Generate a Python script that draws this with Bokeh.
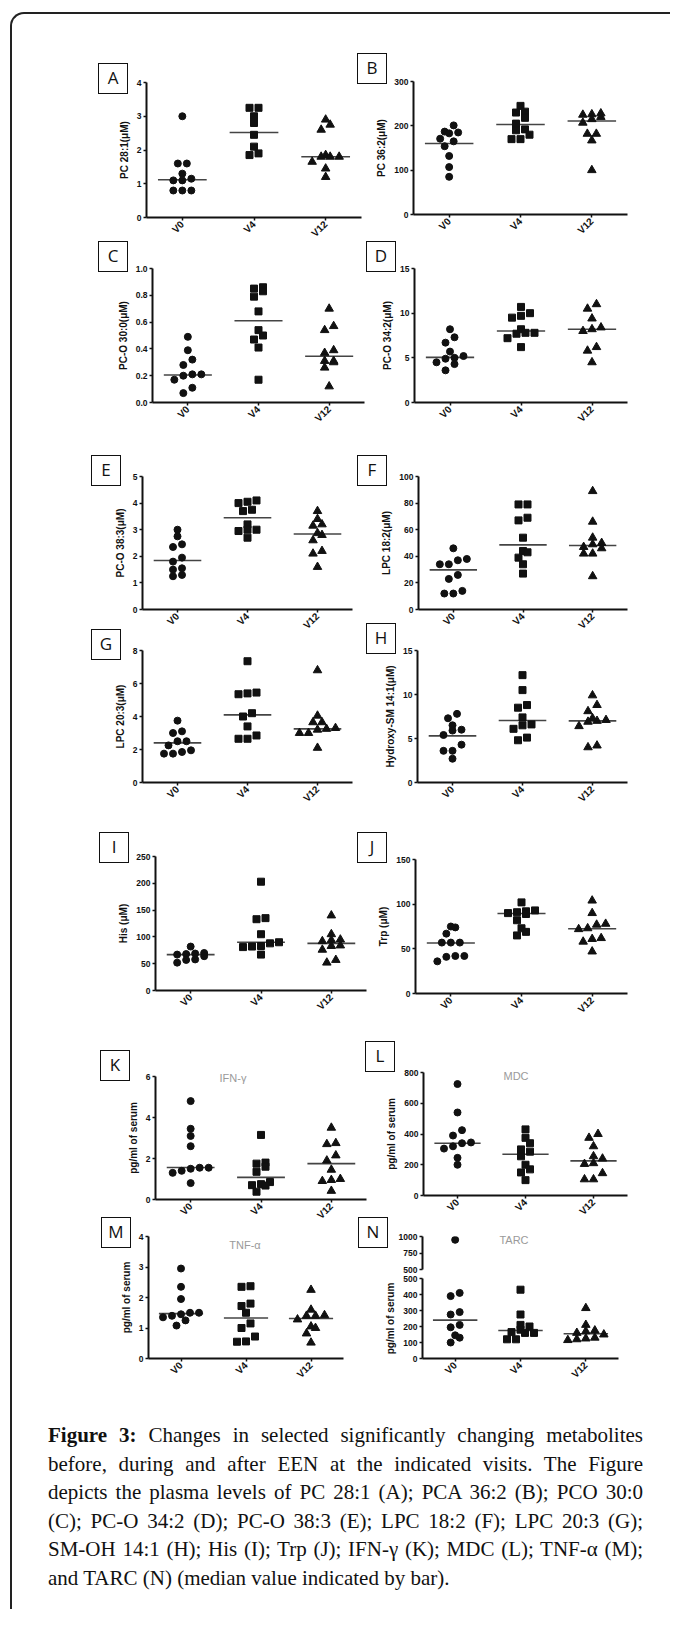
import numpy as np
from bokeh.plotting import figure
from bokeh.models import Range1d, FixedTicker, Div, Column
from bokeh.embed import file_html
from bokeh.resources import INLINE

CATEGORIES = ["V0", "V4", "V12"]
MARKERS = ["circle", "square", "triangle"]

# ---------------- data ----------------
A_V0 = [3.0, 1.6, 1.6, 1.3, 1.15, 1.1, 1.1, 0.8, 0.8, 0.8]
A_V4 = [3.25, 3.25, 3.0, 2.8, 2.45, 2.1, 1.9, 1.85]
A_V12 = [2.9, 2.75, 2.6, 1.85, 1.8, 1.8, 1.8, 1.65, 1.45, 1.2]
A_MEDIAN = [1.12, 2.52, 1.8]
A_TICKS = [0, 1, 2, 3, 4]
A_TICK_LABELS = ["0", "1", "2", "3", "4"]

B_V0 = [201, 187, 185, 183, 171, 165, 154, 132, 107, 85]
B_V4 = [245, 232, 230, 218, 205, 192, 190, 180, 170, 170]
B_V12 = [228, 226, 225, 220, 215, 207, 182, 182, 167, 100]
B_MEDIAN = [160, 203, 211]
B_TICKS = [0, 100, 200, 300]
B_TICK_LABELS = ["0", "100", "200", "300"]

C_V0 = [0.49, 0.39, 0.32, 0.28, 0.21, 0.21, 0.20, 0.17, 0.11, 0.07]
C_V4 = [0.86, 0.85, 0.83, 0.79, 0.68, 0.54, 0.50, 0.47, 0.41, 0.17]
C_V12 = [0.70, 0.57, 0.54, 0.39, 0.37, 0.31, 0.31, 0.30, 0.26, 0.12]
C_MEDIAN = [0.205, 0.61, 0.345]
C_TICKS = [0, 0.2, 0.4, 0.6, 0.8, 1.0]
C_TICK_LABELS = ["0.0", "0.2", "0.4", "0.6", "0.8", "1.0"]

D_V0 = [8.2, 7.3, 6.7, 5.7, 5.2, 5.0, 4.9, 4.5, 4.3, 3.6]
D_V4 = [10.7, 10.0, 9.7, 9.5, 8.2, 7.8, 7.8, 7.7, 7.2, 6.2]
D_V12 = [11.0, 10.5, 9.4, 8.4, 8.2, 8.0, 6.2, 5.8, 4.5]
D_MEDIAN = [5.05, 8.0, 8.2]
D_TICKS = [0, 5, 10, 15]
D_TICK_LABELS = ["0", "5", "10", "15"]

E_V0 = [3.0, 2.75, 2.45, 2.35, 1.95, 1.8, 1.55, 1.5, 1.3, 1.25]
E_V4 = [4.1, 4.05, 4.0, 3.75, 3.7, 3.2, 3.0, 3.0, 2.95, 2.7]
E_V12 = [3.7, 3.4, 3.2, 3.15, 2.87, 2.8, 2.6, 2.2, 2.1, 1.6]
E_MEDIAN = [1.84, 3.45, 2.84]
E_TICKS = [0, 1, 2, 3, 4, 5]
E_TICK_LABELS = ["0", "1", "2", "3", "4", "5"]

F_V0 = [46, 38, 37, 34, 34, 26, 23, 14, 12, 12]
F_V4 = [79, 79, 69, 67, 54, 44, 43, 39, 34, 27]
F_V12 = [89, 66, 54, 50, 49, 47, 46, 42, 42, 25]
F_MEDIAN = [29.8, 48.6, 48.1]
F_TICKS = [0, 20, 40, 60, 80, 100]
F_TICK_LABELS = ["0", "20", "40", "60", "80", "100"]

G_V0 = [3.75, 3.1, 3.0, 2.5, 2.5, 2.25, 1.95, 1.85, 1.75, 1.75]
G_V4 = [7.35, 5.45, 5.4, 5.35, 4.2, 4.0, 3.4, 2.85, 2.65, 2.65]
G_V12 = [6.8, 4.05, 3.65, 3.65, 3.3, 3.25, 3.2, 3.0, 3.0, 2.1]
G_MEDIAN = [2.4, 4.1, 3.25]
G_TICKS = [0, 2, 4, 6, 8]
G_TICK_LABELS = ["0", "2", "4", "6", "8"]

H_V0 = [7.8, 7.3, 6.5, 6.0, 5.9, 5.4, 4.3, 3.6, 3.6, 2.7]
H_V4 = [12.2, 10.5, 8.8, 8.5, 7.4, 6.6, 6.5, 6.1, 5.1, 4.8]
H_V12 = [9.9, 8.8, 8.1, 7.3, 7.1, 7.0, 6.9, 6.4, 4.2, 4.0]
H_MEDIAN = [5.3, 7.05, 7.0]
H_TICKS = [0, 5, 10, 15]
H_TICK_LABELS = ["0", "5", "10", "15"]

I_V0 = [82, 70, 69, 68, 67, 64, 58, 57, 52]
I_V4 = [203, 135, 133, 105, 90, 88, 83, 82, 81, 67]
I_V12 = [140, 105, 95, 94, 92, 84, 83, 76, 57, 52]
I_MEDIAN = [67, 90, 88]
I_TICKS = [0, 50, 100, 150, 200, 250]
I_TICK_LABELS = ["0", "50", "100", "150", "200", "250"]

J_V0 = [75, 74, 67, 57, 57, 57, 42, 42, 41, 36]
J_V4 = [102, 93, 92, 91, 90, 89, 82, 73, 69, 65]
J_V12 = [104, 90, 78, 77, 73, 72, 62, 61, 58, 47]
J_MEDIAN = [56.5, 89.5, 72.5]
J_TICKS = [0, 50, 100, 150]
J_TICK_LABELS = ["0", "50", "100", "150"]

K_V0 = [4.8, 3.45, 3.1, 2.6, 1.55, 1.55, 1.5, 1.4, 1.3, 0.8]
K_V4 = [3.15, 1.8, 1.75, 1.6, 1.35, 0.85, 0.75, 0.7, 0.68, 0.38]
K_V12 = [3.5, 2.75, 2.7, 2.15, 1.9, 1.45, 1.0, 0.95, 0.9, 0.42]
K_MEDIAN = [1.56, 1.08, 1.75]
K_TICKS = [0, 2, 4, 6]
K_TICK_LABELS = ["0", "2", "4", "6"]

L_V0 = [725, 540, 425, 390, 345, 340, 320, 305, 245, 200]
L_V4 = [430, 375, 340, 300, 285, 255, 200, 170, 150, 100]
L_V12 = [400, 375, 320, 255, 240, 210, 205, 145, 105, 105]
L_MEDIAN = [340, 268, 225]
L_TICKS = [0, 200, 400, 600, 800]
L_TICK_LABELS = ["0", "200", "400", "600", "800"]

M_V0 = [2.95, 2.35, 1.95, 1.5, 1.5, 1.45, 1.4, 1.35, 1.25, 1.08]
M_V4 = [2.37, 2.35, 1.8, 1.72, 1.5, 1.15, 1.0, 0.72, 0.56, 0.55]
M_V12 = [2.25, 1.6, 1.42, 1.4, 1.4, 1.28, 1.05, 1.0, 0.82, 0.52]
M_MEDIAN = [1.47, 1.33, 1.31]
M_TICKS = [0, 1, 2, 3, 4]
M_TICK_LABELS = ["0", "1", "2", "3", "4"]

N_V0 = [950, 410, 390, 290, 275, 210, 195, 145, 130, 100]
N_V4 = [430, 275, 210, 200, 180, 165, 160, 160, 120, 120]
N_V12 = [315, 210, 175, 170, 160, 150, 130, 125, 120, 115]
N_MEDIAN = [240, 175, 155]
N_TICKS_UPPER = [500, 750, 1000]
N_TICK_LABELS_UPPER = ["500", "750", "1000"]
N_TICKS_LOWER = [0, 100, 200, 300, 400, 500]
N_TICK_LABELS_LOWER = ["0", "100", "200", "300", "400", "500"]

CAPTION_LINES = [
    "<b>Figure 3:</b> Changes in selected significantly changing metabolites",
    "before, during and after EEN at the indicated visits. The Figure",
    "depicts the plasma levels of PC 28:1 (A); PCA 36:2 (B); PCO 30:0",
    "(C); PC-O 34:2 (D); PC-O 38:3 (E); LPC 18:2 (F); LPC 20:3 (G);",
    "SM-OH 14:1 (H); His (I); Trp (J); IFN-γ (K); MDC (L); TNF-α (M);",
    "and TARC (N) (median value indicated by bar).",
]

# ---------------- layout (page pixels) ----------------
FRAME = {  # left, right, top, bottom of each plotting frame
    "A": (146, 361, 82, 217), "B": (413, 627, 81, 214),
    "C": (152, 364, 268, 402), "D": (414, 627, 268, 402),
    "E": (142, 352, 476, 609), "F": (418, 627, 476, 609),
    "G": (142, 352, 650, 782), "H": (417, 627, 650, 782),
    "I": (155, 366, 856, 990), "J": (415, 627, 859, 993),
    "K": (155, 366, 1076, 1199), "L": (423, 627, 1072, 1195),
    "M": (148, 343, 1236, 1358),
    "N": (422, 618, 1236, 1269), "N2": (422, 618, 1278, 1358),
}
BOX_CENTER = {
    "A": (113, 78), "B": (372, 68), "C": (113, 256), "D": (381, 256),
    "E": (106, 470), "F": (372, 470), "G": (106, 644), "H": (381, 638),
    "I": (114, 847), "J": (372, 847), "K": (115, 1065), "L": (380, 1056),
    "M": (116, 1232), "N": (373, 1232),
}
BOX_W, BOX_H = 30, 31
TITLE_CENTER = {"K": (233, 1077), "L": (516, 1075), "M": (245, 1244), "N": (514, 1239)}
CAPTION_BOX = (48, 1421, 595, 188)
ROOT_POS = (10, 12)                 # where the rounded border starts
ORIGIN = (ROOT_POS[0] + 2, ROOT_POS[1] + 2)

INK = "#111111"
MARKER_SIZE = {"circle": 7, "square": 7, "triangle": 8.5}


def swarm_offsets(vals, px_per_y, px_per_x, row_px=6.5, step_px=9.0):
    v = np.asarray(vals, dtype=float)
    offs = np.zeros(len(v))
    if len(v) == 0:
        return offs
    order = np.argsort(v, kind="stable")
    rows, cur = [], []
    for idx in order:
        if cur and (v[idx] - v[cur[0]]) * px_per_y >= row_px:
            rows.append(cur)
            cur = []
        cur.append(idx)
    rows.append(cur)
    for r in rows:
        n = len(r)
        for k, idx in enumerate(r):
            offs[idx] = (k - (n - 1) / 2.0) * step_px / px_per_x
    return offs


def build_panel(key, ylabel, groups, medians, ylo, yhi, ticks, ticklabels, show_x=True):
    fl, fr, ft, fb = FRAME[key]
    fw, fh = fr - fl, fb - ft
    cl, ct = fl - 50, ft - 7
    cr = fr + 10
    cb = fb + (34 if show_x else 6)
    p = figure(frame_width=fw, frame_height=fh,
               min_border_left=fl - cl, min_border_right=cr - fr,
               min_border_top=ft - ct, min_border_bottom=cb - fb,
               x_range=Range1d(0, 3), y_range=Range1d(ylo, yhi),
               output_backend="svg", toolbar_location=None,
               background_fill_color=None, border_fill_color=None,
               outline_line_color=None)
    p.xgrid.visible = False
    p.ygrid.visible = False

    px_per_y = fh / float(yhi - ylo)
    px_per_x = fw / 3.0
    for gi, (vals, med) in enumerate(zip(groups, medians)):
        vals = [v for v in vals if ylo <= v <= yhi]
        xs = gi + 0.5 + swarm_offsets(vals, px_per_y, px_per_x)
        if med is not None and ylo <= med <= yhi:
            p.segment(x0=[gi + 0.5 - 0.34], x1=[gi + 0.5 + 0.34], y0=[med], y1=[med],
                      line_width=1.6, line_color="#444444")
        p.scatter(xs, vals, marker=MARKERS[gi], size=MARKER_SIZE[MARKERS[gi]], color=INK)

    for ax in p.axis:
        ax.axis_line_width = 2
        ax.axis_line_color = INK
        ax.major_tick_line_width = 1.5
        ax.major_tick_line_color = INK
        ax.major_tick_out = 3
        ax.major_tick_in = 0
        ax.minor_tick_line_color = None
        ax.major_label_text_font = "Liberation Sans"
        ax.major_label_text_font_style = "bold"
        ax.major_label_text_color = INK
        ax.major_label_standoff = 2

    p.yaxis.ticker = FixedTicker(ticks=ticks)
    p.yaxis.major_label_overrides = {t: s for t, s in zip(ticks, ticklabels)}
    p.yaxis.major_label_text_font_size = "8.5px"
    if ylabel:
        p.yaxis.axis_label = ylabel
        p.yaxis.axis_label_text_font = "Liberation Sans"
        p.yaxis.axis_label_text_font_style = "bold"
        p.yaxis.axis_label_text_font_size = "10px"
        p.yaxis.axis_label_text_color = INK
        p.yaxis.axis_label_standoff = 4

    if show_x:
        p.xaxis.ticker = FixedTicker(ticks=[0.5, 1.5, 2.5])
        p.xaxis.major_label_overrides = {i + 0.5: c for i, c in enumerate(CATEGORIES)}
        p.xaxis.major_label_orientation = np.pi / 4
        p.xaxis.major_label_text_font_size = "10px"
    else:
        p.xaxis.visible = False
    return p, (cl, ct, cr - cl, cb - ct)


def letter_box(letter):
    bx, by = BOX_CENTER[letter]
    html = ('<div style="box-sizing:border-box;width:%dpx;height:%dpx;border:1.3px solid #111;'
            'background:#fff;font-family:\'Open Sans\',sans-serif;font-size:17px;color:#111;'
            'line-height:%dpx;text-align:center;">%s</div>' % (BOX_W, BOX_H, BOX_H - 3, letter))
    return Div(text=html, width=BOX_W, height=BOX_H), (bx - BOX_W // 2, by - BOX_H // 2, BOX_W, BOX_H)


def title_div(key, text):
    tx, ty = TITLE_CENTER[key]
    w, h = 80, 14
    html = ('<div style="width:%dpx;height:%dpx;text-align:center;font-family:\'Liberation Sans\','
            'sans-serif;font-size:11px;line-height:%dpx;color:#9a9a9a;">%s</div>' % (w, h, h, text))
    return Div(text=html, width=w, height=h), (tx - w // 2, ty - h // 2, w, h)


items = []
def add(item):
    items.append(item)

specs = [
    ("A", "PC 28:1(μM)", (A_V0, A_V4, A_V12), A_MEDIAN, 0, 4, A_TICKS, A_TICK_LABELS, None),
    ("B", "PC 36:2(μM)", (B_V0, B_V4, B_V12), B_MEDIAN, 0, 300, B_TICKS, B_TICK_LABELS, None),
    ("C", "PC-O 30:0(μM)", (C_V0, C_V4, C_V12), C_MEDIAN, 0, 1.0, C_TICKS, C_TICK_LABELS, None),
    ("D", "PC-O 34:2(μM)", (D_V0, D_V4, D_V12), D_MEDIAN, 0, 15, D_TICKS, D_TICK_LABELS, None),
    ("E", "PC-O 38:3(μM)", (E_V0, E_V4, E_V12), E_MEDIAN, 0, 5, E_TICKS, E_TICK_LABELS, None),
    ("F", "LPC 18:2(μM)", (F_V0, F_V4, F_V12), F_MEDIAN, 0, 100, F_TICKS, F_TICK_LABELS, None),
    ("G", "LPC 20:3(μM)", (G_V0, G_V4, G_V12), G_MEDIAN, 0, 8, G_TICKS, G_TICK_LABELS, None),
    ("H", "Hydroxy-SM 14:1(μM)", (H_V0, H_V4, H_V12), H_MEDIAN, 0, 15, H_TICKS, H_TICK_LABELS, None),
    ("I", "His (μM)", (I_V0, I_V4, I_V12), I_MEDIAN, 0, 250, I_TICKS, I_TICK_LABELS, None),
    ("J", "Trp (μM)", (J_V0, J_V4, J_V12), J_MEDIAN, 0, 150, J_TICKS, J_TICK_LABELS, None),
    ("K", "pg/ml of serum", (K_V0, K_V4, K_V12), K_MEDIAN, 0, 6, K_TICKS, K_TICK_LABELS, "IFN-γ"),
    ("L", "pg/ml of serum", (L_V0, L_V4, L_V12), L_MEDIAN, 0, 800, L_TICKS, L_TICK_LABELS, "MDC"),
    ("M", "pg/ml of serum", (M_V0, M_V4, M_V12), M_MEDIAN, 0, 4, M_TICKS, M_TICK_LABELS, "TNF-α"),
]
for key, ylab, groups, med, lo, hi, tk, tl, title in specs:
    add(build_panel(key, ylab, groups, med, lo, hi, tk, tl))
    add(letter_box(key))
    if title:
        add(title_div(key, title))

# panel N: broken y axis -> two stacked frames
add(build_panel("N", None, (N_V0, N_V4, N_V12), [None, None, None], 500, 1000,
                N_TICKS_UPPER, N_TICK_LABELS_UPPER, show_x=False))
add(build_panel("N2", "pg/ml of serum", (N_V0, N_V4, N_V12), N_MEDIAN, 0, 500,
                N_TICKS_LOWER, N_TICK_LABELS_LOWER))
add(letter_box("N"))
add(title_div("N", "TARC"))

cap_inner = "".join(
    '<div style="text-align:justify;text-align-last:justify;">%s</div>' % ln
    for ln in CAPTION_LINES[:-1]) + "<div>%s</div>" % CAPTION_LINES[-1]
cap_html = ('<div style="font-family:\'Liberation Serif\',serif;font-size:21px;'
            'line-height:28.6px;color:#111;width:%dpx;">%s</div>' % (CAPTION_BOX[2], cap_inner))
add((Div(text=cap_html, width=CAPTION_BOX[2], height=CAPTION_BOX[3]), CAPTION_BOX))

children = []
prev_bottom = ORIGIN[1]
for obj, (l, t, w, h) in items:
    obj.margin = (int(t - prev_bottom), 0, 0, int(l - ORIGIN[0]))
    prev_bottom = t + h
    children.append(obj)

root = Column(children=children, width=660, margin=(ROOT_POS[1], 0, 0, ROOT_POS[0]),
              styles={"border-left": "2px solid #222", "border-top": "2px solid #222",
                      "border-top-left-radius": "14px"})

open("out.html", "w").write(file_html(root, INLINE))
